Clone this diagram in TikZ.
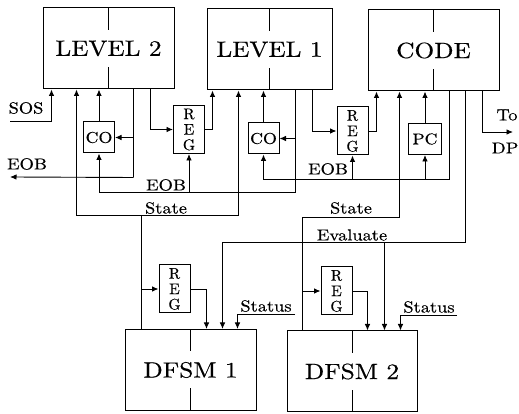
\documentclass[tikz,border=0pt]{standalone}
\usepackage{fontspec}
\setmainfont{lmroman10-regular.otf}[FakeStretch=1.15, FakeBold=0.4]
\newfontfamily\regfont{lmroman10-regular.otf}[FakeBold=0.4]
\usetikzlibrary{arrows.meta}

\tikzset{
  unit/.style={draw, line width=1pt, minimum width=131pt, minimum height=81pt, inner sep=0pt,
    font=\fontsize{22}{24}\selectfont,
    path picture={\draw[line width=1pt] (path picture bounding box.north) -- ++(0,-22pt)
      (path picture bounding box.south) -- ++(0,22pt);}},
  smallbox/.style={draw, line width=1pt, minimum width=31pt, minimum height=31pt, inner sep=0pt,
    font=\fontsize{15.5}{16}\selectfont},
  regbox/.style={smallbox, minimum height=48pt, align=center, font=\regfont\fontsize{15.5}{15.5}\selectfont},
  wire/.style={line width=0.9pt, -{Latex[length=6.5pt,width=5.5pt]}},
  line/.style={line width=0.9pt},
  lbl/.style={font=\fontsize{16}{18}\selectfont, inner sep=0pt}
}

\begin{document}
\begin{tikzpicture}[x=1pt, y=1pt]
\useasboundingbox (0,0) rectangle (519,414);

\node[unit] (lev2) at (108.5,365.5) {LEVEL 2};
\node[unit, minimum width=125pt] (lev1) at (269.5,364.5) {LEVEL 1};
\node[unit] (code) at (433.5,363.5) {CODE};
\node[unit] (dfsm1) at (190.5,44) {DFSM 1};
\node[unit, minimum width=130pt] (dfsm2) at (352,42.5) {DFSM 2};

\node[smallbox] (co2) at (99,276.5) {CO};
\node[regbox] (reg2) at (189,284.5) {R\\E\\G};
\node[smallbox] (co1) at (263.5,275.5) {CO};
\node[regbox] (reg1) at (352.5,283) {R\\E\\G};
\node[smallbox, minimum width=33pt] (pc) at (425,275) {PC};
\node[regbox] (reg3) at (174.5,125) {R\\E\\G};
\node[regbox] (reg4) at (336.5,123) {R\\E\\G};

\coordinate (sos) at (10,293);
\draw[wire] (sos) -| ([xshift=9pt]lev2.south west);
\node[lbl] (sosl) at (26,306) {SOS};

\draw[line] ([xshift=17pt]dfsm1.north west) -- ++(0,114) coordinate (st1);
\draw[wire] (st1) -| ([xshift=34pt]lev2.south west);
\draw[wire] (st1) -| ([xshift=32pt]lev1.south west);
\draw[wire] (st1 |- reg3.west) -- (reg3.west);
\node[lbl] (st1l) at (166,206) {State};

\draw[line] ([xshift=-41pt]lev2.south east) -- ++(0,-88) coordinate (eob2);
\coordinate (eobout) at (10,237);
\draw[wire] (eob2) -- (eobout);
\draw[wire] (eob2 |- co2.east) -- (co2.east);
\node[lbl] (eob2l) at (27,250) {EOB};
\draw[wire] (co2.north) -- (co2.north |- lev2.south);
\draw[wire] ([xshift=-24pt]lev2.south east) |- (reg2.west);
\draw[wire] (reg2.east) -| ([xshift=6pt]lev1.south west);

\draw[line] ([xshift=-37pt]lev1.south east) -- ++(0,-102) coordinate (eob1);
\draw[wire] (eob1) -| (co2.south);
\draw[wire] (eob1 -| reg2.south) -- (reg2.south);
\draw[wire] (eob1 |- co1.east) -- (co1.east);
\node[lbl] (eob1l) at (166,229) {EOB};
\draw[wire] (co1.north) -- (co1.north |- lev1.south);
\draw[wire] ([xshift=-20pt]lev1.south east) |- (reg1.west);
\draw[wire] (reg1.east) -| ([xshift=9pt]code.south west);

\draw[line] ([xshift=-50pt]code.south east) -- ++(0,-88) coordinate (eob0);
\draw[wire] (eob0) -| (co1.south);
\draw[wire] (eob0 -| pc.south) -- (pc.south);
\draw[wire] (eob0 -| reg1.south) -- (reg1.south);
\node[lbl] (eob0l) at (328,245) {EOB};
\draw[wire] (pc.north) -- (pc.north |- code.south);

\draw[line] ([xshift=16pt]dfsm2.north west) -- ++(0,113) coordinate (st2);
\draw[wire] (st2) -| ([xshift=32pt]code.south west);
\draw[wire] (st2 |- reg4.west) -- (reg4.west);
\node[lbl] (st2l) at (351,206) {State};

\draw[line] ([xshift=-34pt]code.south east) -- ++(0,-151) coordinate (ev);
\coordinate (ev2) at ([xshift=98pt]dfsm2.north west);
\draw[wire] (ev) -| ([xshift=98pt]dfsm1.north west);
\draw[wire] (ev -| ev2) -- (ev2);
\node[lbl] (evl) at (352,179) {Evaluate};

\draw[wire] (reg3.east) -| ([xshift=82pt]dfsm1.north west);
\draw[wire] (reg4.east) -| ([xshift=81pt]dfsm2.north west);

\coordinate (stat1) at (295,100);
\draw[wire] (stat1) -| ([xshift=113pt]dfsm1.north west);
\node[lbl] (stat1l) at (266,108) {Status};
\coordinate (stat2) at (457,99);
\draw[wire] (stat2) -| ([xshift=114pt]dfsm2.north west);
\node[lbl] (stat2l) at (429,107) {Status};

\coordinate (todp) at (513,282);
\draw[wire] ([xshift=-17pt]code.south east) |- (todp);
\node[lbl] (tol) at (507,299) {To};
\node[lbl] (dpl) at (505,266) {DP};
\end{tikzpicture}
\end{document}
